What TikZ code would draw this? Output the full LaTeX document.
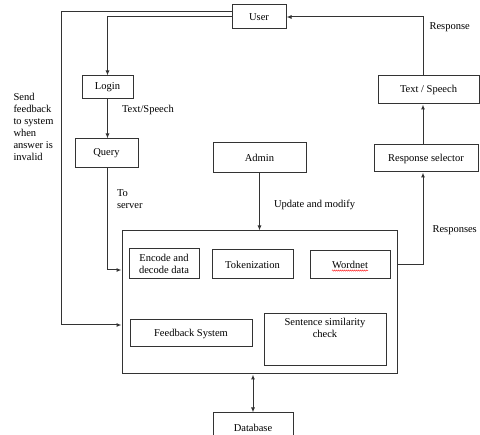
\documentclass[tikz,border=0pt]{standalone}
\usepackage{fontspec}
\setmainfont{Liberation Serif}
\usetikzlibrary{arrows.meta,positioning,decorations.pathmorphing}

\begin{document}
\begin{tikzpicture}[
  x=1pt,y=-1pt,
  font=\fontsize{10.5}{12}\selectfont,
  line width=1pt,draw=black!80,
  box/.style={draw=black!80,align=center,inner sep=2pt,fill=white},
  flow/.style={-{Latex[length=5pt,width=4pt]}},
  twoway/.style={{Latex[length=5pt,width=4pt]}-{Latex[length=5pt,width=4pt]}},
  lbl/.style={align=left,inner sep=1pt}
]
\useasboundingbox (0,0) rectangle (480,435);

% outer nodes
\node[box,minimum width=54,minimum height=24] (user) at (259,17) {User};
\node[box,minimum width=51,minimum height=23] (login) at (107.5,87.5) {Login};
\node[box,minimum width=63,minimum height=29] (query) at (106.5,153.5) {Query};
\node[box,minimum width=93,minimum height=30] (admin) at (259.5,158) {Admin};
\node[box,minimum width=101,minimum height=28] (txtsp) at (428.5,90) {Text / Speech};
\node[box,minimum width=104,minimum height=27] (selector) at (426,158.5) {Response selector};
\node[box,minimum width=80,minimum height=30] (db) at (253,428) {Database};

% server block
\node[box,minimum width=275,minimum height=143] (core) at (259.5,302.5) {};
\node[box,minimum width=70,minimum height=30] (encode) at (164,264) {Encode and\\decode data};
\node[box,minimum width=81,minimum height=29] (token) at (252.5,264.5) {Tokenization};
\node[box,minimum width=80,minimum height=28] (wordnet) at (350,265) {Wordnet};
\node[box,minimum width=122,minimum height=27] (feedback) at (191,333.5) {Feedback System};
\node[box,minimum width=122,minimum height=52] (simcheck) at (325,340) {};
\node[align=center,anchor=north,inner sep=0pt] (simtext) at (simcheck.north |- 0,318)
  {Sentence similarity\\check};
\draw[red!80,line width=0.5pt,decorate,decoration={snake,amplitude=0.6pt,segment length=2pt}]
  ([xshift=-18pt,yshift=-2pt]wordnet.base) -- ([xshift=18pt,yshift=-2pt]wordnet.base);

\node[lbl,anchor=north west,inner sep=0pt] (fbnote) at (13,93)
  {Send\\feedback\\to system\\when\\answer is\\invalid};

% bend points
\coordinate (fbtop) at (61,12);
\coordinate (fbbot) at (61,325);
\coordinate (qin) at (122,270);
\coordinate (rx) at (423,0);

% connectors
\draw[flow] (user.west |- fbtop) -- (fbtop) -- (fbbot) -- (core.west |- fbbot);
\draw[flow] (user.west) -| (login.north);
\draw[flow] (login.south) -- node[lbl,pos=.28,right=13pt] {Text/Speech} (login.south |- query.north);
\draw[flow] (query.south -| login.south) |- node[lbl,pos=.15,right=8pt] {To\\server} (core.west |- qin);
\draw[flow] (admin.south) -- node[lbl,pos=.55,right=13pt] {Update and modify} (admin.south |- core.north);
\draw[flow] (core.east |- wordnet) -| node[lbl,pos=.69,right=8pt] {Responses} (selector.south -| rx);
\draw[flow] (selector.north -| rx) -- (txtsp.south -| rx);
\draw[flow] (txtsp.north -| rx) |- node[lbl,pos=.41,right=5pt] {Response} (user.east);
\draw[twoway] (core.south -| db.north) -- (db.north);
\end{tikzpicture}
\end{document}
